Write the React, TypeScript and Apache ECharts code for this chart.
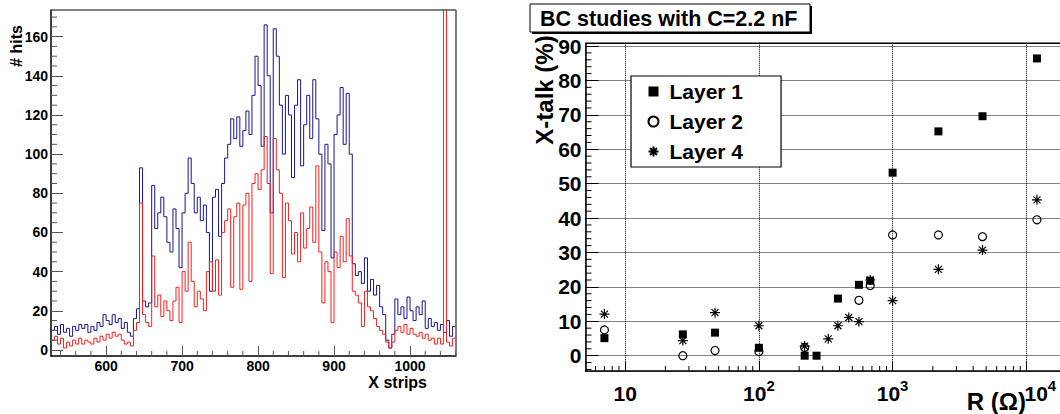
import React, { useEffect, useRef } from "react";
import * as echarts from "echarts";

const FONT = '"Liberation Sans", Arial, Helvetica, sans-serif';

// ---------- Left panel: hit histograms (4-strip bins starting at strip 528) ----------
const binStart = 528;
const binWidth = 4;
const blueHits = [
  10, 12, 8, 13, 9, 11, 7, 12, 10, 13,
  11, 13, 9, 12, 10, 14, 12, 18, 15, 13,
  18, 14, 16, 11, 14, 9, 7, 16, 21, 93,
  25, 22, 24, 84, 62, 70, 78, 68, 55, 50,
  72, 62, 42, 70, 80, 98, 85, 70, 78, 66,
  74, 60, 30, 78, 82, 58, 85, 98, 105, 118,
  108, 119, 104, 112, 122, 110, 130, 150, 135, 104,
  166, 140, 70, 164, 150, 125, 100, 130, 120, 88,
  125, 138, 94, 115, 130, 108, 138, 118, 100, 61,
  105, 95, 47, 110, 120, 134, 105, 131, 100, 44,
  38, 40, 34, 47, 30, 36, 28, 33, 22, 18,
  5, 1, 8, 26, 18, 22, 16, 27, 20, 15,
  22, 18, 25, 11, 16, 12, 14, 10, 13, 9, 15, 7, 12,
];
const redHits = [
  5, 7, 3, 6, 1, 4, 2, 5, 3, 6,
  3, 5, 4, 3, 6, 4, 7, 5, 8, 6,
  9, 7, 8, 5, 3, 4, 2, 10, 14, 75,
  18, 14, 12, 48, 22, 28, 17, 25, 20, 15,
  25, 32, 14, 40, 30, 55, 35, 22, 30, 26,
  20, 40, 45, 30, 46, 28, 60, 66, 72, 32,
  68, 75, 31, 74, 80, 35, 85, 90, 82, 92,
  109, 85, 39, 108, 92, 80, 37, 75, 66, 49,
  60, 45, 70, 52, 62, 73, 55, 94, 50, 24,
  45, 40, 14, 50, 42, 58, 45, 67, 48, 30,
  28, 24, 12, 30, 22, 20, 16, 12, 10, 8,
  4, 1, 4, 10, 12, 9, 13, 8, 11, 8,
  7, 9, 6, 8, 5, 6, 3, 6, 3, 200, 4, 2, 6,
];

// ---------- Right panel: cross-talk vs resistance ----------
const rLayer1 = [7, 27, 47, 100, 220, 270, 390, 560, 680, 1000, 2200, 4700, 12000];
const xtalkLayer1 = [5.1, 6.2, 6.7, 2.3, 0, 0, 16.6, 20.6, 21.8, 53.2, 65.2, 69.6, 86.4];
const rLayer2 = [7, 27, 47, 100, 220, 560, 680, 1000, 2200, 4700, 12000];
const xtalkLayer2 = [7.5, 0, 1.5, 1.2, 2.4, 16.1, 20.4, 35.1, 35.1, 34.6, 39.5];
const rLayer4 = [7, 27, 47, 100, 220, 330, 390, 470, 560, 680, 1000, 2200, 4700, 12000];
const xtalkLayer4 = [12.1, 4.4, 12.5, 8.7, 2.8, 4.9, 8.7, 11.1, 9.9, 22, 16, 25.1, 30.7, 45.3];

const legendNames = ["Layer 1", "Layer 2", "Layer 4"];
const titleText = "BC studies with C=2.2 nF";
const leftYTitle = "# hits";
const leftXTitle = "X strips";
const rightYTitle = "X-talk (%)";
const rightXTitle = "R (\u03A9)";

const STAR = "path://M0,5L10,5M5,0L5,10M1.5,1.5L8.5,8.5M1.5,8.5L8.5,1.5";

// layout
const GL = { left: 51, top: 10, width: 405, height: 346 };
const GR = { left: 585.5, top: 43.3, width: 476.5, height: 327.7 };

function histData(counts: number[]) {
  const d = counts.map((v, i) => [binStart + i * binWidth, v]);
  d.push([binStart + counts.length * binWidth, counts[counts.length - 1]]);
  return d;
}
function pairs(xs: number[], ys: number[]) {
  return xs.map((x, i) => [x, ys[i]]);
}

const bold = (size: number) => ({
  fontFamily: FONT,
  fontWeight: "bold" as const,
  fontSize: size,
  color: "#000",
});

export default function App() {
  const ref = useRef<HTMLDivElement>(null);
  useEffect(() => {
    const chart = echarts.init(ref.current!, null, { renderer: "svg" });
    const option: any = {
      animation: false,
      backgroundColor: "#fff",
      grid: [
        { left: GL.left, top: GL.top, width: GL.width, height: GL.height },
        { left: GR.left, top: GR.top, width: GR.width, height: GR.height },
      ],
      xAxis: [
        {
          gridIndex: 0,
          type: "value",
          min: 527.5,
          max: 1060.5,
          splitNumber: 5,
          axisLine: { show: true, onZero: false, lineStyle: { color: "#000", width: 1.5 } },
          axisTick: { show: true, inside: true, length: 10, lineStyle: { color: "#555" } },
          axisLabel: {
            ...bold(14),
            margin: 3,
            showMinLabel: false,
            showMaxLabel: false,
            formatter: (v: number) => String(v),
          },
          splitLine: { show: false },
        },
        {
          gridIndex: 1,
          type: "log",
          logBase: 10,
          min: 5.053,
          max: 17850,
          axisLine: { show: true, onZero: false, lineStyle: { color: "#000", width: 1.5 } },
          axisTick: { show: true, inside: true, length: 10, lineStyle: { color: "#000" } },
          axisLabel: {
            margin: 7,
            showMinLabel: false,
            showMaxLabel: false,
            formatter: (v: number) => {
              const e = Math.round(Math.log10(v));
              if (e === 1) return "{b|10}";
              if (e === 4) return "{bs|10}{s|" + e + "}";
              return "{b|10}{s|" + e + "}";
            },
            rich: {
              b: { ...bold(21), lineHeight: 26, verticalAlign: "bottom" },
              bs: { ...bold(21), lineHeight: 26, verticalAlign: "bottom", padding: [0, 0, 0, 28] },
              s: { ...bold(15), lineHeight: 15, verticalAlign: "top" },
            },
          },
          splitLine: { show: true, lineStyle: { color: "#000", width: 1, type: [1, 1] } },
        },
      ],
      yAxis: [
        {
          gridIndex: 0,
          type: "value",
          min: -3.1,
          max: 173.6,
          splitNumber: 9,
          axisLine: { show: true, onZero: false, lineStyle: { color: "#000", width: 1.5 } },
          axisTick: { show: true, inside: true, length: 12, lineStyle: { color: "#555" } },
          axisLabel: { ...bold(14), margin: 3, showMinLabel: false, showMaxLabel: false },
          splitLine: { show: false },
        },
        {
          gridIndex: 1,
          type: "value",
          min: -4.45,
          max: 90.8,
          splitNumber: 10,
          axisLine: { show: true, onZero: false, lineStyle: { color: "#000", width: 1.5 } },
          axisTick: { show: true, inside: true, length: 13, lineStyle: { color: "#000" } },
          axisLabel: { ...bold(21), margin: 4, showMinLabel: false, showMaxLabel: false },
          splitLine: { show: true, lineStyle: { color: "#000", width: 1, type: [1, 1] } },
        },
      ],
      legend: {
        data: legendNames,
        orient: "vertical",
        left: 631,
        top: 76,
        padding: [5, 38, 5, 15],
        itemWidth: 10,
        itemHeight: 10,
        itemGap: 9,
        backgroundColor: "#fff",
        borderColor: "#000",
        borderWidth: 1.2,
        borderRadius: 0,
        selectedMode: false,
        textStyle: { ...bold(21), lineHeight: 20, padding: [0, 0, 0, 6] },
      },
      series: [
        {
          type: "line",
          xAxisIndex: 0,
          yAxisIndex: 0,
          data: histData(blueHits),
          step: "end",
          symbol: "none",
          silent: true,
          lineStyle: { color: "#16168f", width: 1 },
          z: 2,
        },
        {
          type: "line",
          xAxisIndex: 0,
          yAxisIndex: 0,
          data: histData(redHits),
          step: "end",
          symbol: "none",
          silent: true,
          lineStyle: { color: "#f52020", width: 1 },
          z: 3,
        },
        {
          name: legendNames[0],
          type: "scatter",
          xAxisIndex: 1,
          yAxisIndex: 1,
          data: pairs(rLayer1, xtalkLayer1),
          symbol: "rect",
          symbolSize: 8,
          itemStyle: { color: "#000", borderWidth: 0, opacity: 1 },
          z: 4,
        },
        {
          name: legendNames[1],
          type: "scatter",
          xAxisIndex: 1,
          yAxisIndex: 1,
          data: pairs(rLayer2, xtalkLayer2),
          symbol: "circle",
          symbolSize: 8,
          itemStyle: { color: "none", borderColor: "#000", borderWidth: 1.2, opacity: 1 },
          z: 5,
        },
        {
          name: legendNames[2],
          type: "scatter",
          xAxisIndex: 1,
          yAxisIndex: 1,
          data: pairs(rLayer4, xtalkLayer4),
          symbol: STAR,
          symbolSize: 10,
          itemStyle: { color: "#000", borderColor: "#000", borderWidth: 1.2, opacity: 1 },
          z: 6,
        },
      ],
    };
    chart.setOption(option);

    // frame, titles and minor ticks
    const els: any[] = [];
    const line = (x1: number, y1: number, x2: number, y2: number, stroke: string, w: number) =>
      els.push({ type: "line", silent: true, z: 10, shape: { x1, y1, x2, y2 }, style: { stroke, lineWidth: w } });

    // left frame (top, right)
    line(GL.left, GL.top, GL.left + GL.width, GL.top, "#555", 1.5);
    line(GL.left + GL.width, GL.top, GL.left + GL.width, GL.top + GL.height, "#555", 1.5);
    // right frame top
    line(GR.left, GR.top, GR.left + GR.width, GR.top, "#000", 1.5);

    const lb = GL.top + GL.height;
    for (let v = 540; v <= 1060; v += 20) {
      if (v % 100 === 0) continue;
      const x = chart.convertToPixel({ xAxisIndex: 0 }, v) as number;
      line(x, lb, x, lb - 5, "#555", 1);
    }
    for (let v = 5; v <= 170; v += 5) {
      if (v % 20 === 0) continue;
      const y = chart.convertToPixel({ yAxisIndex: 0 }, v) as number;
      line(GL.left, y, GL.left + 6, y, "#555", 1);
    }
    for (let v = -4; v <= 90; v += 2) {
      if (v % 10 === 0) continue;
      const y = chart.convertToPixel({ yAxisIndex: 1 }, v) as number;
      line(GR.left, y, GR.left + 6, y, "#000", 1);
    }
    const rb = GR.top + GR.height;
    for (let k = 0; k <= 4; k++) {
      for (let m = 2; m <= 9; m++) {
        const v = m * Math.pow(10, k);
        if (v < 5.053 || v > 17850) continue;
        const x = chart.convertToPixel({ xAxisIndex: 1 }, v) as number;
        line(x, rb, x, rb - 5, "#000", 1);
      }
    }

    // axis titles
    els.push({
      type: "text", x: 16.5, y: 46, rotation: Math.PI / 2, z: 10,
      style: { text: leftYTitle, font: `bold 16px ${FONT}`, fill: "#000", align: "center", verticalAlign: "middle" },
    });
    els.push({
      type: "text", x: 427, y: 382, z: 10,
      style: { text: leftXTitle, font: `bold 16px ${FONT}`, fill: "#000", align: "right", verticalAlign: "middle" },
    });
    els.push({
      type: "text", x: 544, y: 90, rotation: Math.PI / 2, z: 10,
      style: { text: rightYTitle, font: `bold 24px ${FONT}`, fill: "#000", align: "center", verticalAlign: "middle" },
    });
    els.push({
      type: "text", x: 1026, y: 401, z: 10,
      style: { text: rightXTitle, font: `bold 24px ${FONT}`, fill: "#000", align: "right", verticalAlign: "middle" },
    });

    // title box with shadow
    els.push({ type: "rect", z: 10, shape: { x: 532, y: 6, width: 280, height: 28 }, style: { fill: "#000" } });
    els.push({
      type: "rect", z: 11, shape: { x: 530, y: 4, width: 280, height: 28 },
      style: { fill: "#fff", stroke: "#000", lineWidth: 1 },
    });
    els.push({
      type: "text", x: 540, y: 19, z: 12,
      style: { text: titleText, font: `bold 21.5px ${FONT}`, fill: "#000", align: "left", verticalAlign: "middle" },
    });

    chart.setOption({ graphic: { elements: els } });
    return () => chart.dispose();
  }, []);
  return (
    <div
      ref={ref}
      style={{ position: "absolute", left: 0, top: 0, width: 1060, height: 414, overflow: "hidden" }}
    />
  );
}
